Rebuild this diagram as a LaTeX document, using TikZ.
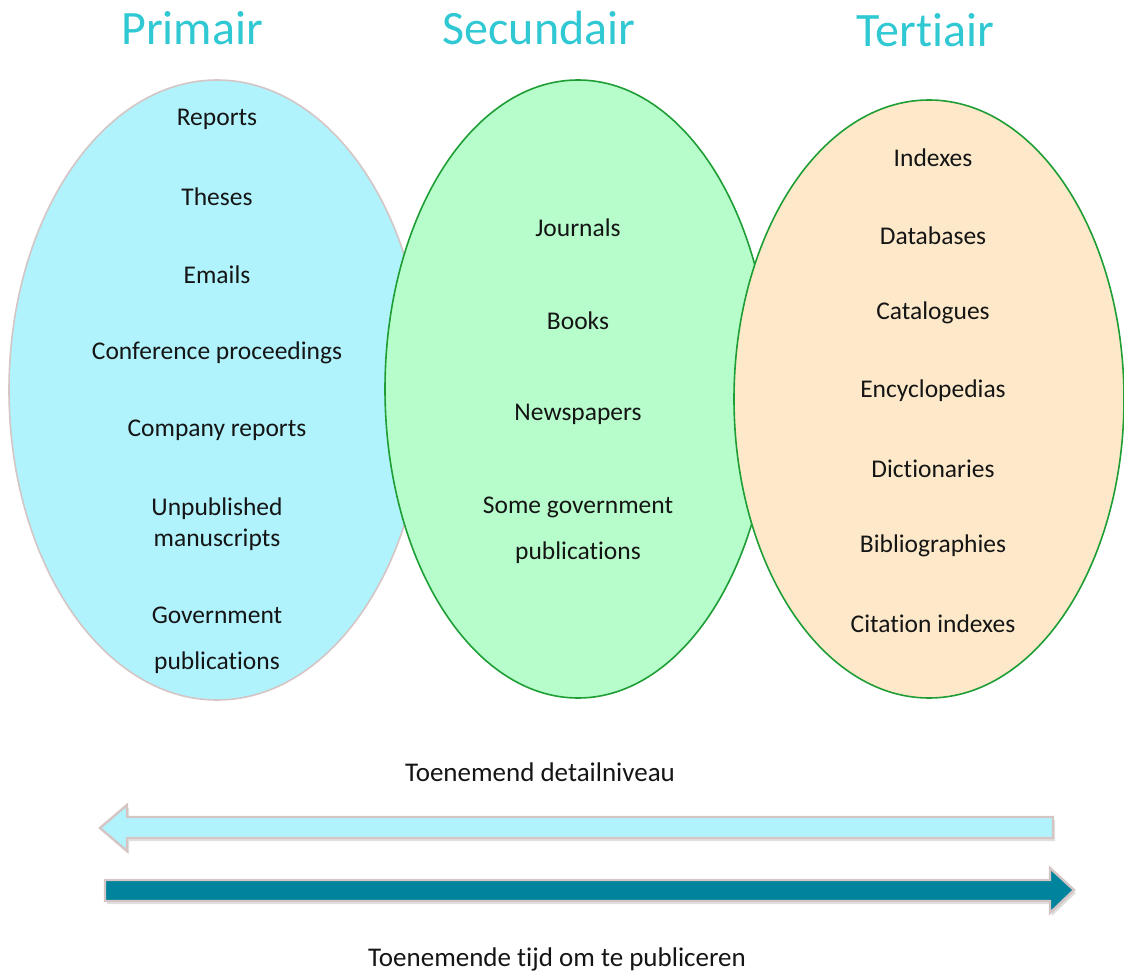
\documentclass[tikz,border=0pt]{standalone}
\usepackage{fontspec}
\setmainfont{Carlito}[Ligatures=NoCommon]
\usetikzlibrary{shapes.geometric,shadows}

\definecolor{titleblue}{HTML}{2FC8D3}
\definecolor{primfill}{HTML}{B0F3FD}
\definecolor{primline}{HTML}{D5C5C5}
\definecolor{secfill}{HTML}{B6FDCB}
\definecolor{terfill}{HTML}{FDE9C9}
\definecolor{ovalline}{HTML}{1E9E34}
\definecolor{darkteal}{HTML}{00849D}
\definecolor{txt}{HTML}{151515}

\begin{document}
\begin{tikzpicture}[x=1pt,y=-1pt,
    oval/.style={ellipse, inner sep=0pt, line width=1.6pt},
    item/.style={text=txt, font=\fontsize{25.5}{30}\selectfont, align=center},
    caption/.style={text=txt, font=\fontsize{27}{32}\selectfont},
    heading/.style={text=titleblue, font=\fontsize{48}{56}\selectfont},
    bigarrow/.style={line width=2.4pt, draw=primline, line join=miter,
        drop shadow={shadow xshift=2pt, shadow yshift=-3pt, opacity=0.25}}]
    \useasboundingbox (0,0) rectangle (1124,971);

    % the three ovals
    \node[oval, draw=primline, fill=primfill, minimum width=416, minimum height=620] (prim) at (217,390) {};
    \node[oval, draw=ovalline, fill=secfill, minimum width=386, minimum height=618] (sec) at (578,389) {};
    \node[oval, draw=ovalline, fill=terfill, minimum width=390, minimum height=598] (ter) at (929,399) {};

    % headings
    \node[heading] (h1) at (192,28) {Primair};
    \node[heading] (h2) at (539,28) {Secundair};
    \node[heading] (h3) at (925,30) {Tertiair};

    % primair
    \node[item] (p1) at (217,119) {Reports};
    \node[item] (p2) at (217,197) {Theses};
    \node[item] (p3) at (217,275) {Emails};
    \node[item] (p4) at (217,353) {Conference proceedings};
    \node[item] (p5) at (217,430) {Company reports};
    \node[item] (p6) at (217,524) {Unpublished\\[1pt]manuscripts};
    \node[item] (p7) at (217,640) {Government\\[16pt]publications};

    % secundair
    \node[item] (s1) at (578,228) {Journals};
    \node[item] (s2) at (578,321) {Books};
    \node[item] (s3) at (578,414) {Newspapers};
    \node[item] (s4) at (578,530) {Some government\\[16pt]publications};

    % tertiair
    \node[item] (t1) at (933,158) {Indexes};
    \node[item] (t2) at (933,236) {Databases};
    \node[item] (t3) at (933,313) {Catalogues};
    \node[item] (t4) at (933,391) {Encyclopedias};
    \node[item] (t5) at (933,469) {Dictionaries};
    \node[item] (t6) at (933,546) {Bibliographies};
    \node[item] (t7) at (933,624) {Citation indexes};

    % arrows
    \node[caption] (lab1) at (540,772) {Toenemend detailniveau};
    \draw[bigarrow, fill=primfill] (1053,817) -- (127,817) -- (127,805) -- (100,828)
        -- (127,851) -- (127,838) -- (1053,838) -- cycle;
    \draw[bigarrow, fill=darkteal] (105,880) -- (1050,880) -- (1050,868) -- (1074,890)
        -- (1050,913) -- (1050,901) -- (105,901) -- cycle;
    \node[caption] (lab2) at (557,959) {Toenemende tijd om te publiceren};
\end{tikzpicture}
\end{document}
